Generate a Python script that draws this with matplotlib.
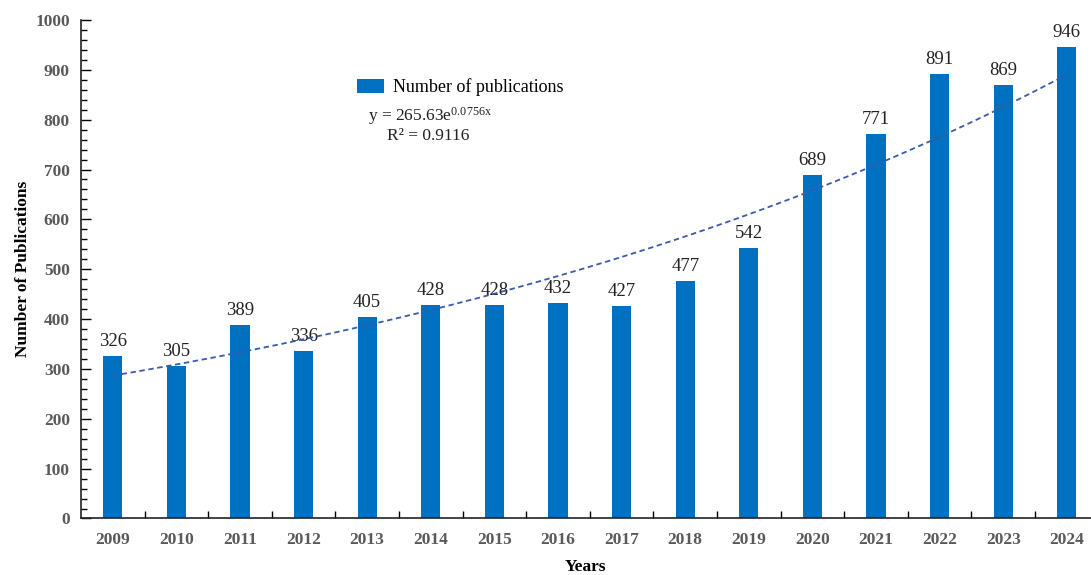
import numpy as np
import matplotlib.pyplot as plt
from matplotlib.ticker import MultipleLocator, FixedLocator

plt.rcParams['font.family'] = ['Liberation Serif', 'DejaVu Serif']
plt.rcParams['mathtext.fontset'] = 'custom'
plt.rcParams['mathtext.rm'] = 'Liberation Serif'
plt.rcParams['mathtext.it'] = 'Liberation Serif'

years = ['2009', '2010', '2011', '2012', '2013', '2014', '2015', '2016',
         '2017', '2018', '2019', '2020', '2021', '2022', '2023', '2024']
counts = [326, 305, 389, 336, 405, 428, 428, 432, 427, 477, 542, 689, 771, 891, 869, 946]

# trend line coefficients shown on the chart
fit_a = 265.63
fit_b = 0.0756

fig = plt.figure(figsize=(10.91, 5.75), dpi=100)
ax = fig.add_axes([0.0742, 0.0983, 0.9258, 0.867])

x = np.arange(len(years))
ax.bar(x, counts, width=0.30, color='#0070C0', label='Number of publications', zorder=2)

for xi, v in zip(x, counts):
    ax.text(xi, v + 12, str(v), ha='center', va='bottom', fontsize=13.5, color='#222222')

xt = np.linspace(0, len(years) - 1, 200)
ax.plot(xt, fit_a * np.exp(fit_b * (xt + 1)), ls=(0, (3, 2)), color='#3B5BA8', lw=1.3, zorder=3)

ax.set_xlim(-0.5, 15.38)
ax.set_ylim(0, 1000)
ax.set_xticks(x)
ax.set_xticklabels(years)
ax.xaxis.set_minor_locator(FixedLocator(np.arange(0.5, 15, 1)))
ax.tick_params(axis='x', which='major', length=0, pad=10)
ax.tick_params(axis='x', which='minor', direction='in', length=5, width=1)
ax.yaxis.set_major_locator(MultipleLocator(100))
ax.yaxis.set_minor_locator(MultipleLocator(20))
ax.tick_params(axis='y', which='major', direction='in', length=7, width=1, pad=8)
ax.tick_params(axis='y', which='minor', direction='in', length=4, width=1)
for lab in ax.get_xticklabels() + ax.get_yticklabels():
    lab.set_fontweight('bold')
    lab.set_fontsize(12.5)
    lab.set_color('#595959')

for s in ['top', 'right']:
    ax.spines[s].set_visible(False)
for s in ['left', 'bottom']:
    ax.spines[s].set_linewidth(1.2)
    ax.spines[s].set_color('#222222')

ax.set_xlabel('Years', fontsize=12.5, fontweight='bold', labelpad=7.5)
ax.set_ylabel('Number of Publications', fontsize=12.5, fontweight='bold', labelpad=3)

ax.legend(loc='upper left', bbox_to_anchor=(0.257, 0.916), frameon=False, fontsize=13,
          handlelength=1.5, handleheight=0.8, handletextpad=0.5)
ax.text(0.284, 0.808, r'y = 265.63e$^{\mathrm{0.0756x}}$', transform=ax.transAxes, fontsize=12.5,
        color='#222222', va='center')
ax.text(0.303, 0.768, 'R² = 0.9116', transform=ax.transAxes, fontsize=12.5,
        color='#222222', va='center')

fig.savefig('out.png', dpi=100)
